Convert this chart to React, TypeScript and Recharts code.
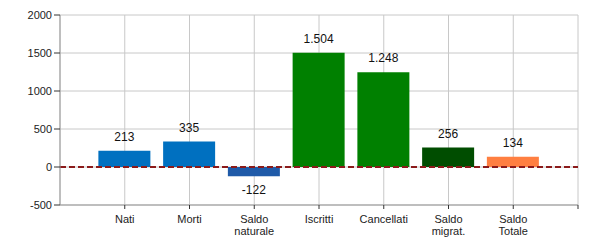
import React from 'react';
import { BarChart, Bar, Cell, XAxis, YAxis, CartesianGrid, ReferenceLine, LabelList } from 'recharts';

const categories = ['Nati', 'Morti', 'Saldo naturale', 'Iscritti', 'Cancellati', 'Saldo migrat.', 'Saldo Totale'];
const tickLines = [['Nati'], ['Morti'], ['Saldo', 'naturale'], ['Iscritti'], ['Cancellati'], ['Saldo', 'migrat.'], ['Saldo', 'Totale']];
const values = [213, 335, -122, 1504, 1248, 256, 134];
const colors = ['#0070C0', '#0070C0', '#1F5AA8', '#008000', '#008000', '#004D00', '#FF7F41'];
const yTicks = [-500, 0, 500, 1000, 1500, 2000];

const data = categories.map((name, i) => ({ pos: i + 1, name, value: values[i] }));

const fmt = (v: number) => String(Math.abs(v)).replace(/\B(?=(\d{3})+(?!\d))/g, '.').replace(/^/, v < 0 ? '-' : '');

const XTick = (props: any) => {
  const { x, y, payload } = props;
  const lines = tickLines[payload.value - 1] || [];
  return (
    <text x={x} y={y} textAnchor="middle" fill="#222" fontSize={11} fontFamily="Liberation Sans, Arial, sans-serif">
      {lines.map((l, i) => (
        <tspan key={i} x={x} dy={i === 0 ? 12 : 12}>{l}</tspan>
      ))}
    </text>
  );
};

const BarLabel = (props: any) => {
  const { x, y, width, height, value } = props;
  const top = Math.min(y, y + height);
  const bottom = Math.max(y, y + height);
  const ty = value >= 0 ? top - 10 : bottom + 18;
  return (
    <text x={x + width / 2} y={ty} textAnchor="middle" fill="#111" fontSize={12} fontFamily="Liberation Sans, Arial, sans-serif">
      {fmt(value)}
    </text>
  );
};

export default function App() {
  return (
    <div style={{ margin: -8, background: '#fff', width: 600, height: 250 }}>
      <BarChart width={600} height={250} data={data} margin={{ top: 15, right: 22, bottom: 15, left: 0 }}>
        <CartesianGrid stroke="#c8c8c8" />
        <XAxis
          dataKey="pos"
          type="number"
          domain={[0, 8]}
          ticks={[1, 2, 3, 4, 5, 6, 7, 8]}
          interval={0}
          height={30}
          tick={<XTick />}
          tickSize={4}
          stroke="#999"
          tickLine={{ stroke: '#333' }}
        />
        <YAxis
          domain={[-500, 2000]}
          ticks={yTicks}
          width={60}
          tickSize={6}
          tick={{ fill: '#222', fontSize: 11, fontFamily: 'Liberation Sans, Arial, sans-serif' }}
          stroke="#999"
          tickLine={{ stroke: '#333' }}
        />
        <Bar dataKey="value" barSize={52} isAnimationActive={false}>
          {data.map((d, i) => (
            <Cell key={d.name} fill={colors[i]} />
          ))}
          <LabelList dataKey="value" content={<BarLabel />} />
        </Bar>
        <ReferenceLine y={0} stroke="#8B1A1A" strokeWidth={2} strokeDasharray="6 3" />
      </BarChart>
    </div>
  );
}
